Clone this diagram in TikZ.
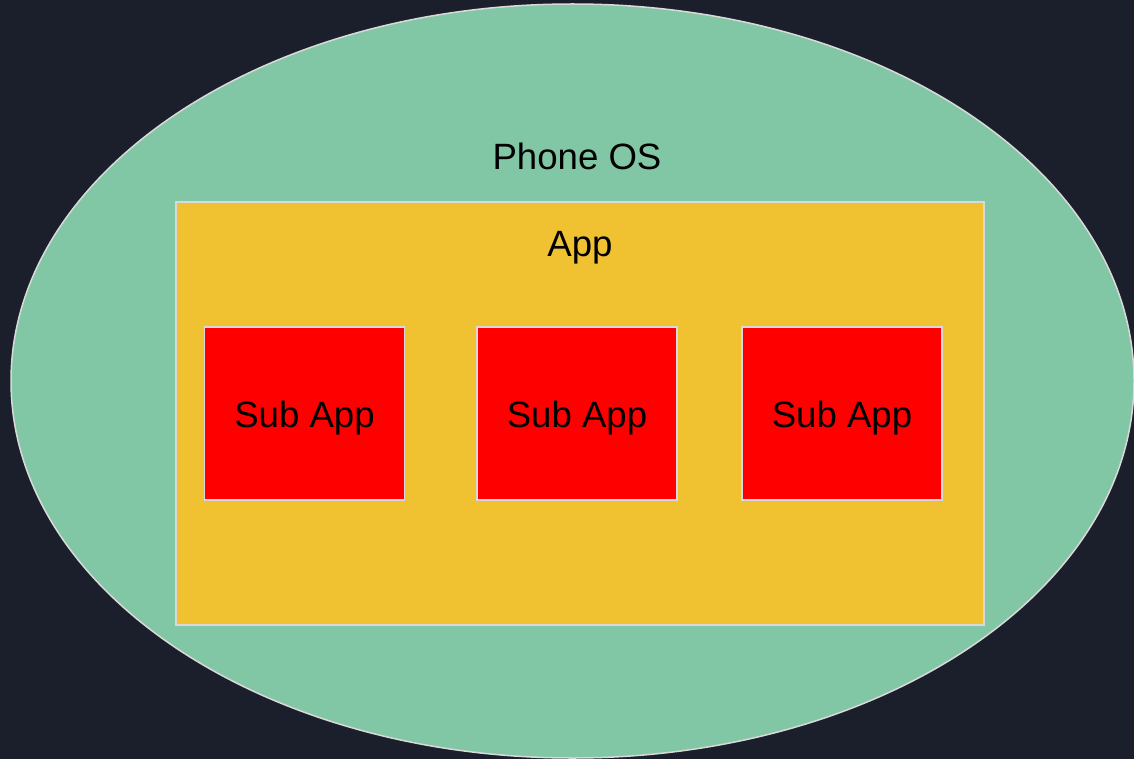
\documentclass[tikz,border=0pt]{standalone}
\usepackage{fontspec}
\setmainfont{Liberation Sans}
\usetikzlibrary{shapes.geometric}
\definecolor{bgc}{HTML}{1B1F2B}
\definecolor{osc}{HTML}{82C7A5}
\definecolor{appc}{HTML}{F0C232}
\definecolor{subc}{HTML}{FF0000}
\definecolor{edgec}{HTML}{D9D9D9}
\tikzset{
  lbl/.style={font=\fontsize{36.6}{40}\selectfont, text=black, inner sep=0pt, anchor=base},
  subbox/.style={draw=edgec, line width=1.5pt, fill=subc, minimum width=200pt, minimum height=173pt, inner sep=0pt, font=\fontsize{36.6}{40}\selectfont, text height=30pt, text depth=2pt},
}
\begin{document}
\begin{tikzpicture}[x=1pt,y=-1pt]
\path[use as bounding box, fill=bgc] (0,0) rectangle (1134,759);
\begin{scope}
\clip (0,0) rectangle (1134,759);
\node[ellipse, draw=edgec, line width=1.5pt, fill=osc, minimum width=1123pt, minimum height=754pt, inner sep=0pt] (os) at (572.5,381) {};
\end{scope}
\node[lbl] (oslbl) at (577,170) {Phone OS};
\node[draw=edgec, line width=1.5pt, fill=appc, minimum width=808pt, minimum height=423pt, inner sep=0pt] (app) at (580,413.5) {};
\node[lbl] (applbl) at (580,256) {App};
\node[subbox] (s1) at (304.5,413.5) {Sub App};
\node[subbox] (s2) at (577,413.5) {Sub App};
\node[subbox] (s3) at (842,413.5) {Sub App};
\end{tikzpicture}
\end{document}
